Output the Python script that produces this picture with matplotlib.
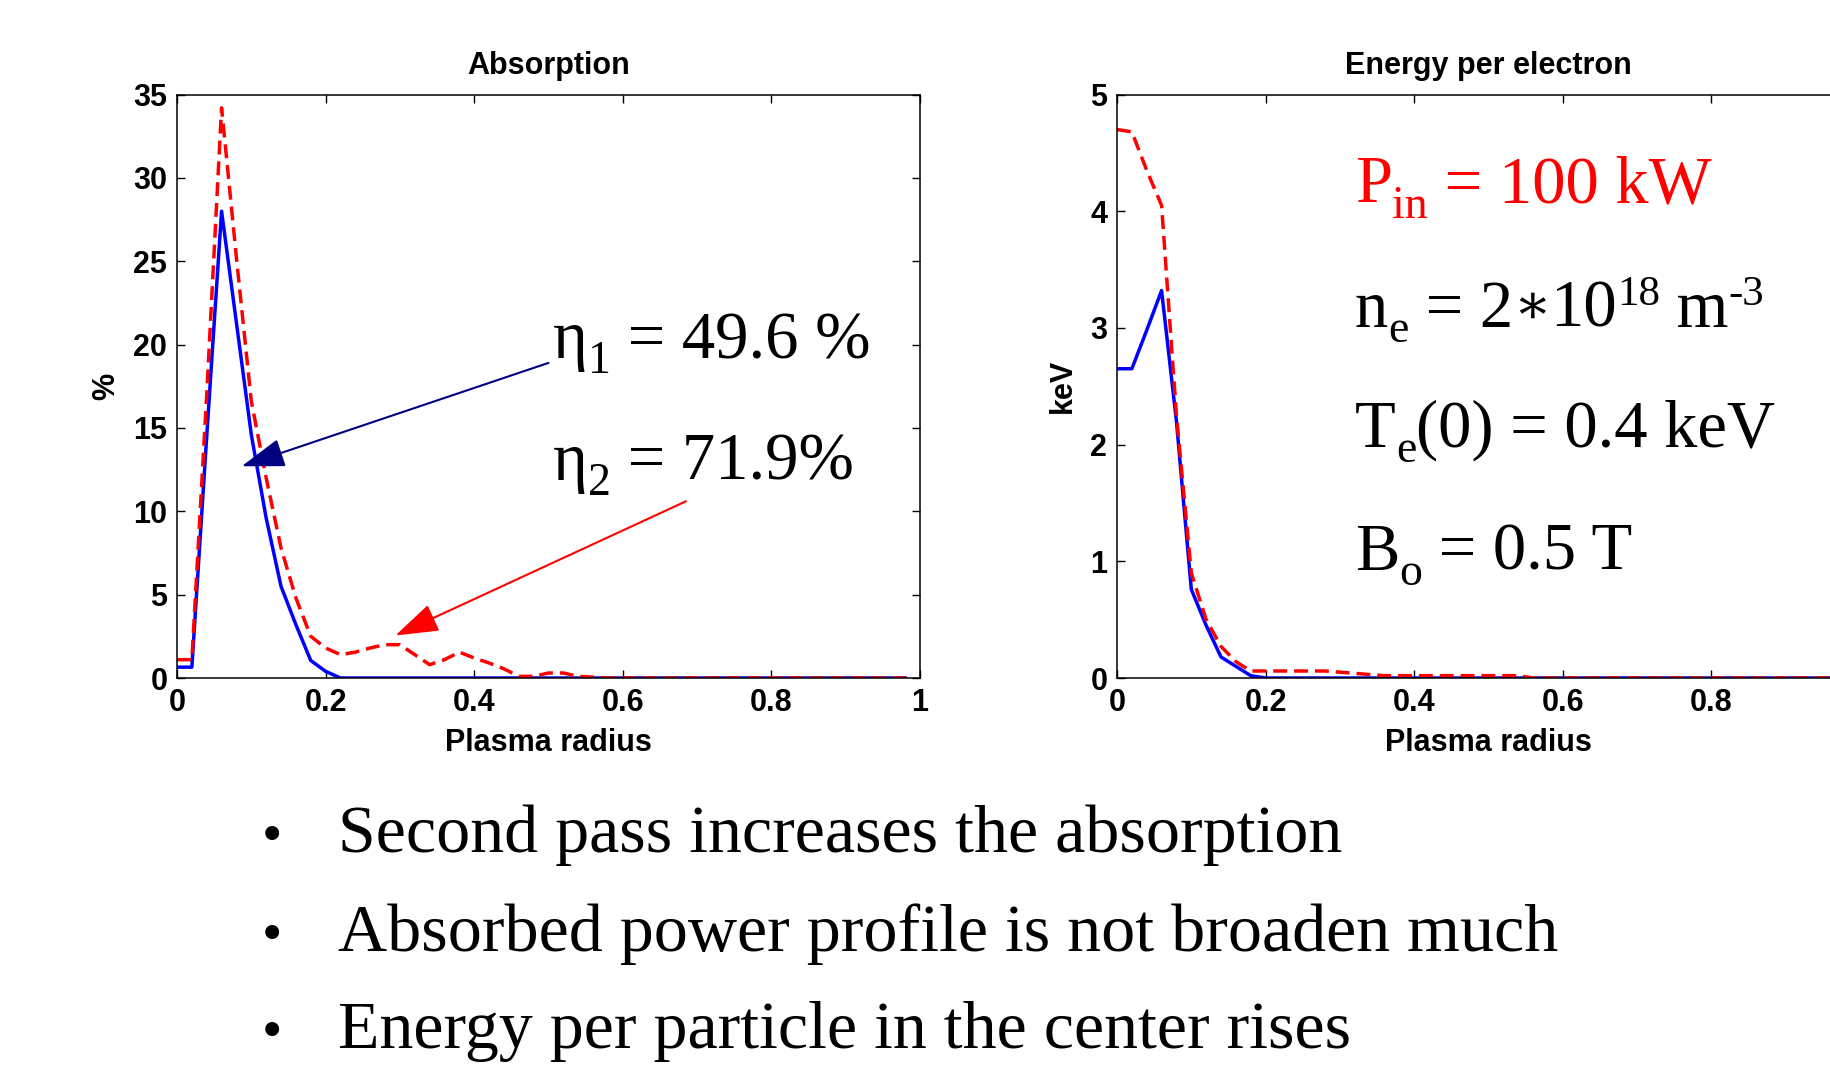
import matplotlib.pyplot as plt

plt.rcParams['font.family'] = 'Liberation Sans'

# normalised plasma radius grid
radius = [0.00, 0.02, 0.04, 0.06, 0.08, 0.10, 0.12, 0.14, 0.16, 0.18,
          0.20, 0.22, 0.24, 0.26, 0.28, 0.30, 0.32, 0.34, 0.36, 0.38,
          0.40, 0.42, 0.44, 0.46, 0.48, 0.50, 0.52, 0.54, 0.56, 0.58,
          0.60, 0.62, 0.64, 0.66, 0.68, 0.70, 0.72, 0.74, 0.76, 0.78,
          0.80, 0.82, 0.84, 0.86, 0.88, 0.90, 0.92, 0.94, 0.96, 0.98]

# absorption (%) - single pass (blue) and second pass (red)
absorb_pass1 = [0.65, 0.65, 14.5, 28.0, 21.3, 14.6, 9.6, 5.5, 3.2, 1.05,
                0.4, 0.0] + [0.0] * 38
absorb_pass2 = [1.1, 1.1, 17.0, 34.2, 25.2, 16.6, 12.0, 7.8, 4.8, 2.5,
                1.8, 1.4, 1.55, 1.8, 2.0, 2.0, 1.4, 0.8, 1.1, 1.55,
                1.2, 0.9, 0.55, 0.1, 0.1, 0.3, 0.3, 0.1, 0.05] + [0.0] * 21

# energy per electron (keV)
energy_pass1 = [2.65, 2.65, 2.98, 3.32, 2.2, 0.76, 0.45, 0.18, 0.1, 0.02] + [0.0] * 40
energy_pass2 = [4.7, 4.68, 4.35, 4.05, 2.25, 0.9, 0.5, 0.27, 0.14, 0.06,
                0.06, 0.06, 0.06, 0.06, 0.06, 0.05, 0.04, 0.03, 0.02, 0.02,
                0.02, 0.02, 0.02, 0.02, 0.02, 0.02, 0.02, 0.02] + [0.0] * 22

W, H = 1830, 1067
fig = plt.figure(figsize=(W / 100, H / 100), dpi=100)
renderer = fig.canvas.get_renderer()
SERIF = ['Liberation Serif', 'DejaVu Serif', 'DejaVu Sans']


def fxy(x, y):
    return x / W, 1 - y / H


def rich(x, y, parts, color='black'):
    # parts: (text, fontsize, raise in px); pieces are chained left to right
    cx = x
    for s, size, dy in parts:
        t = fig.text(*fxy(cx, y - dy), s, family=SERIF,
                     fontsize=size, color=color, va='baseline', ha='left')
        cx = t.get_window_extent(renderer).x1


def setup(ax, title, ylabel, ymax, ystep, xlabels):
    ax.set_xlim(0, 1)
    ax.set_ylim(0, ymax)
    ax.set_xticks([0, 0.2, 0.4, 0.6, 0.8, 1])
    ax.set_xticklabels(xlabels)
    ax.set_yticks(range(0, ymax + 1, ystep))
    ax.tick_params(direction='in', top=True, right=True, length=6, width=1,
                   labelsize=22, pad=7)
    for lab in ax.get_xticklabels() + ax.get_yticklabels():
        lab.set_fontweight('bold')
    for sp in ax.spines.values():
        sp.set_linewidth(1.1)
    ax.set_title(title, fontsize=22, fontweight='bold', pad=15)
    ax.set_xlabel('Plasma radius', fontsize=22, fontweight='bold')
    ax.xaxis.set_label_coords(0.5, -0.085)
    ax.set_ylabel(ylabel, fontsize=22, fontweight='bold')


ax1 = fig.add_axes([177 / W, 1 - 678 / H, 743 / W, 583.5 / H])
ax1.plot(radius, absorb_pass1, color='#0000ff', lw=2.5)
ax1.plot(radius, absorb_pass2, color='#ff0000', lw=2.5, ls=(0, (4, 2)))
setup(ax1, 'Absorption', '%', 35, 5, ['0', '0.2', '0.4', '0.6', '0.8', '1'])
ax1.yaxis.set_label_coords(-0.075, 0.5)

ax2 = fig.add_axes([1117 / W, 1 - 678 / H, 743 / W, 583.5 / H])
ax2.plot(radius, energy_pass1, color='#0000ff', lw=2.5)
ax2.plot(radius, energy_pass2, color='#ff0000', lw=2.5, ls=(0, (4, 2)))
setup(ax2, 'Energy per electron', 'keV', 5, 1, ['0', '0.2', '0.4', '0.6', '0.8', ''])
ax2.yaxis.set_label_coords(-0.052, 0.5)

# efficiency annotations with arrows
ax1.annotate('', xy=(0.087, 12.7), xytext=(0.50, 18.9),
             arrowprops=dict(arrowstyle='-|>,head_length=0.9,head_width=0.3',
                             color='#000080', lw=1.5, mutation_scale=30,
                             shrinkA=0, shrinkB=0))
ax1.annotate('', xy=(0.294, 2.55), xytext=(0.685, 10.6),
             arrowprops=dict(arrowstyle='-|>,head_length=0.9,head_width=0.3',
                             color='#ff0000', lw=1.5, mutation_scale=30,
                             shrinkA=0, shrinkB=0))

big, sub, sup = 48, 33, 31
rich(553, 358, [('η', big, 0), ('1', sub, -15), (' = 49.6 %', big, 0)])
rich(553, 480, [('η', big, 0), ('2', sub, -15), (' = 71.9%', big, 0)])

rich(1355, 202, [('P', big, 0), ('in', sub, -16), (' = 100 kW', big, 0)], color='#ff0000')
rich(1355, 327, [('n', big, 0), ('e', sub, -15), (' = 2', big, 0), ('∗', 40, 4),
                 ('10', big, 0), ('18', sup, 22), (' m', big, 0), ('-3', sup, 22)])
rich(1355, 447, [('T', big, 0), ('e', sub, -15), ('(0) = 0.4 keV', big, 0)])
rich(1355, 570, [('B', big, 0), ('o', sub, -15), (' = 0.5 T', big, 0)])

bullets = ['Second pass increases the absorption',
           'Absorbed power profile is not broaden much',
           'Energy per particle in the center rises']
for line, base in zip(bullets, [852, 951, 1048]):
    fig.text(*fxy(262, base), '•', family='Liberation Serif', fontsize=42,
             va='baseline', ha='left')
    fig.text(*fxy(338, base), line, family='Liberation Serif', fontsize=49,
             va='baseline', ha='left')

fig.savefig('out.png', dpi=100)
